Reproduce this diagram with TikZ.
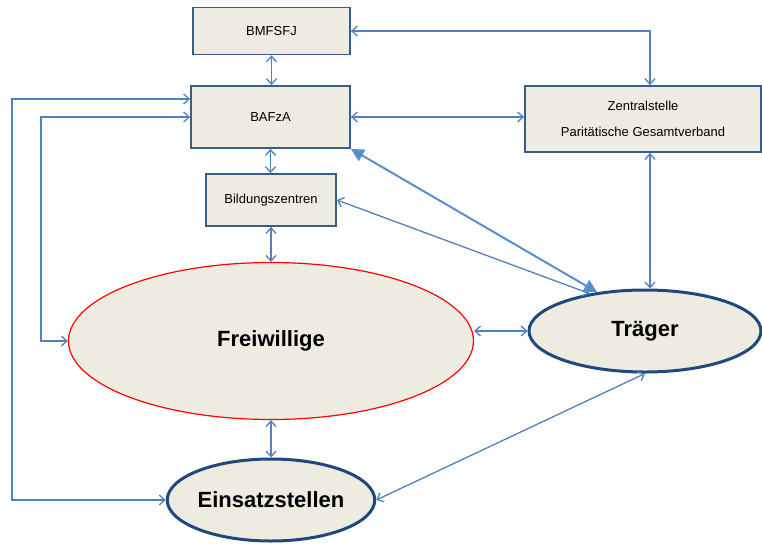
\documentclass[tikz,border=0pt]{standalone}
\usepackage{fontspec}
\setmainfont{Liberation Sans}
\usetikzlibrary{arrows.meta,shapes.geometric}

\definecolor{boxfill}{RGB}{238,236,225}
\definecolor{boxline}{RGB}{56,93,138}
\definecolor{ovalline}{RGB}{31,73,125}
\definecolor{linkblue}{RGB}{79,129,189}
\definecolor{boldblue}{RGB}{85,142,213}

\begin{document}
\begin{tikzpicture}[x=1pt,y=-1pt,
      office/.style={draw=boxline,line width=1.8pt,fill=boxfill,inner sep=0pt,
        font=\fontsize{13}{26}\selectfont,align=center},
      party/.style={ellipse,draw=ovalline,line width=3pt,fill=boxfill,inner sep=0pt,
        font=\fontsize{22}{26}\selectfont\bfseries},
      link/.style={linkblue,line width=1.3pt,
        {Straight Barb[length=5.5pt,width=10pt]}-{Straight Barb[length=5.5pt,width=10pt]}},
      boldlink/.style={boldblue,line width=2pt,
        {Triangle[length=13pt,width=13pt]}-{Triangle[length=13pt,width=13pt]}}]
    \useasboundingbox (0,0) rectangle (762,544);
    % offices at the top
    \node[office,minimum width=157pt,minimum height=47pt] (bmfsfj) at (271.5,31) {BMFSFJ};
    \node[office,minimum width=159pt,minimum height=62pt] (bafza) at (270.5,117) {BAFzA};
    \node[office,minimum width=130pt,minimum height=52pt] (bz) at (271,200) {Bildungszentren};
    \node[office,minimum width=236pt,minimum height=66pt] (zs) at (643,119)
      {Zentralstelle\\Paritätische Gesamtverband};
    % the three parties
    \node[party,draw=red,line width=1.2pt,minimum width=405pt,minimum height=157pt] (fw)
      at (271,341) {Freiwillige};
    \node[party,minimum width=232pt,minimum height=82pt] (tr) at (645,331) {Träger};
    \node[party,minimum width=196pt,minimum height=82pt] (es) at (271,500) {Einsatzstellen};
    \coordinate (lo) at (12,0);
    \coordinate (li) at (41,0);
    % connectors
    \draw[link] (bmfsfj.east) -| ([xshift=7pt]zs.north);
    \draw[link] (bmfsfj.south) -- (bmfsfj.south |- bafza.north);
    \draw[link] (bafza.east) -- (bafza.east -| zs.west);
    \draw[link] (bafza.south) -- (bafza.south |- bz.north);
    \draw[link] (bz) -- (fw);
    \draw[link] (fw) -- (es);
    \draw[link] (fw.east |- tr.west) -- (tr.west);
    \draw[link] ([xshift=7pt]zs.south) -- ([xshift=7pt]zs.south |- tr.north);
    \draw[link] (es.east) -- (tr.south);
    \draw[link] (bz.east) -- (tr.146);
    \draw[boldlink] (bafza.south east) -- (tr.141);
    % the two loops on the left
    \draw[link] (es.west) -- (es.west -| lo) |- ([yshift=18pt]bafza.west);
    \draw[link] (bafza.west) -- (bafza.west -| li) |- (fw.west);
  \end{tikzpicture}
\end{document}
